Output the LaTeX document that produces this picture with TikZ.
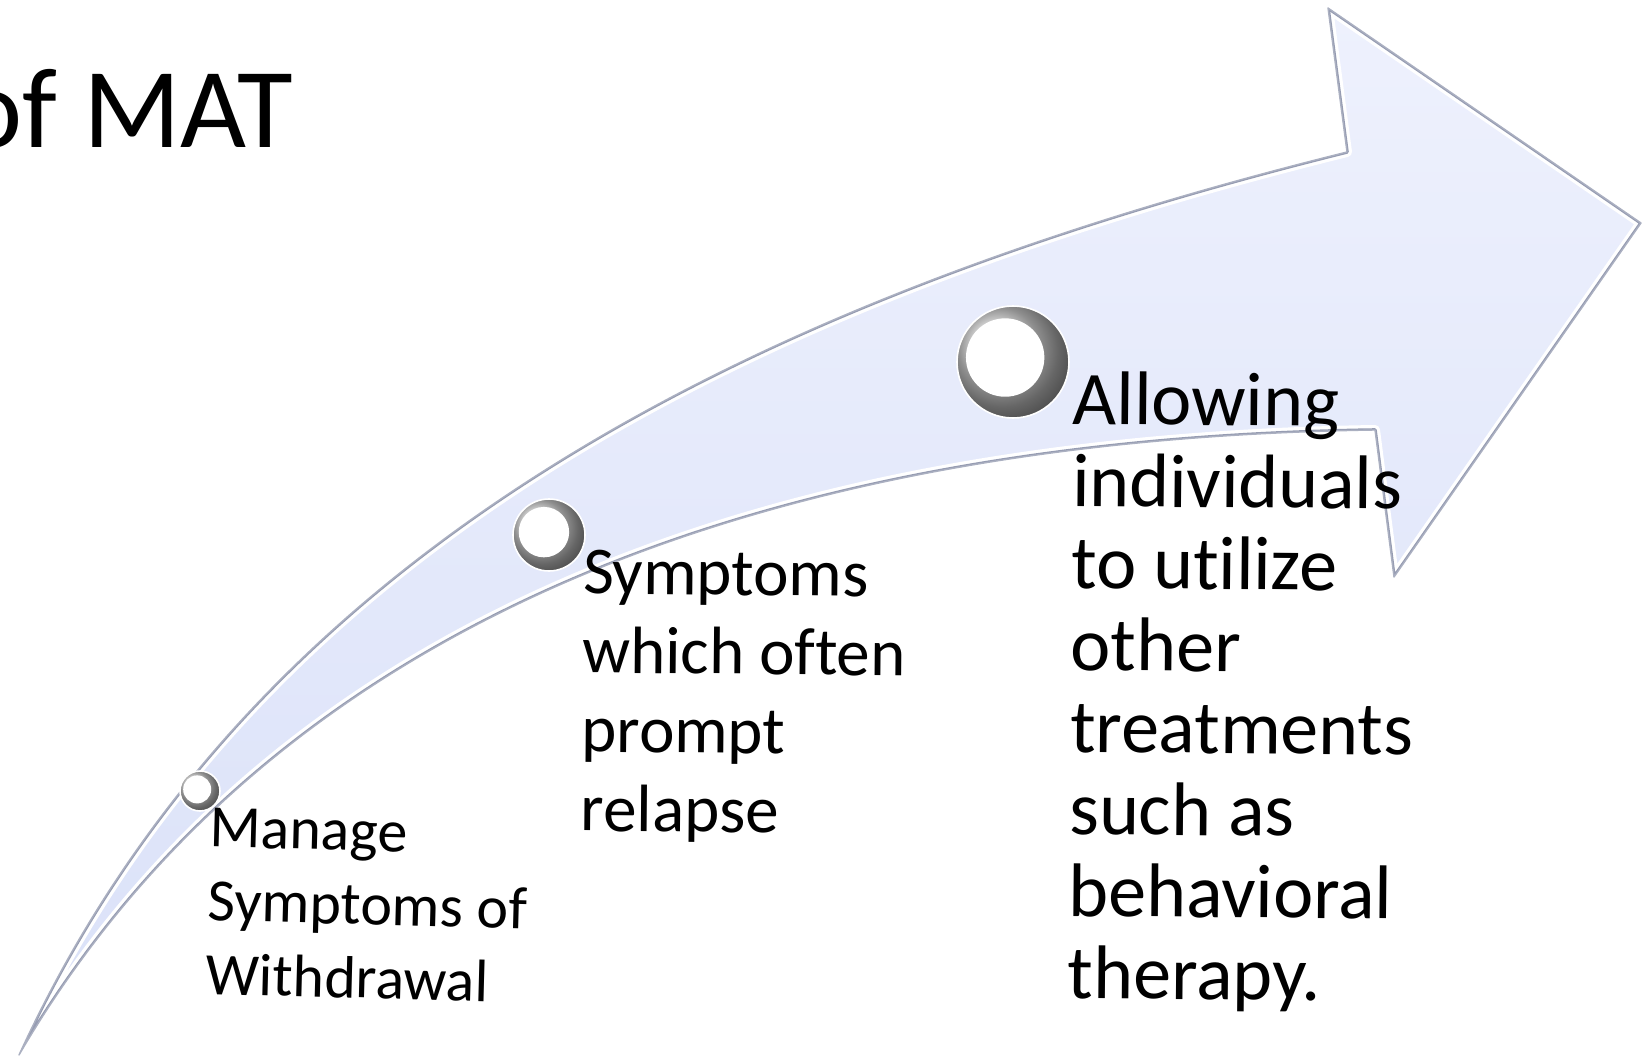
\documentclass[tikz,border=0pt]{standalone}
\usepackage{fontspec}
\setmainfont[Ligatures={NoCommon,NoRare,NoContextual}]{Carlito}
\usetikzlibrary{shadings}

\definecolor{arrowtop}{RGB}{238,241,253}
\definecolor{arrowbot}{RGB}{218,225,248}
\definecolor{arrowedge}{RGB}{150,156,178}

% outline of the curved arrow, in pixel units
\newcommand{\arrowpath}{(19,1055) .. controls (250,550) and (750,300) .. (1347,152)
  -- (1328,8) -- (1641,223) -- (1394,577) -- (1375,430)
  .. controls (700,440) and (250,660) .. (19,1055) -- cycle}

\begin{document}
\begin{tikzpicture}[x=0.5pt,y=-0.5pt,%
      steptext/.style={%
        align      = left,
        anchor     = north west,
        inner sep  = 0pt,
      },
      bead/.style={%
        circle,
        minimum size = #1,
        inner sep    = 0pt,
        draw         = white,
        line width   = 0.8pt,
        ball color   = gray!40,
        path picture = {\fill[white] ([xshift=-0.07*#1,yshift=0.04*#1]path picture bounding box.center) circle (0.35*#1);},
      }
      ]
      \useasboundingbox (0,0) rectangle (1646,1061);

      % arrow body with a bevelled rim
      \shade[top color=arrowtop, bottom color=arrowbot] \arrowpath;
      \begin{scope}
        \clip \arrowpath;
        \draw[white, line width=5pt, line join=round] \arrowpath;
        \draw[arrowedge, line width=1.8pt, line join=round] \arrowpath;
      \end{scope}
      \draw[arrowedge!80, line width=0.7pt, line join=round] \arrowpath;

      \node[anchor=base west, inner sep=0pt, font=\fontsize{57}{68}\selectfont] (title) at (-38,147) {of MAT};

      \node[bead=20pt] (bead-1) at (200,791) {};
      \node[bead=36pt] (bead-2) at (549,535) {};
      \node[bead=56pt] (bead-3) at (1013,362) {};

      \node[steptext, font=\fontsize{30}{36.8}\selectfont, rotate=-1.5] (step-1) at (210,808) {Manage\\Symptoms of\\Withdrawal};
      \node[steptext, font=\fontsize{33.5}{39.5}\selectfont, rotate=-0.5] (step-2) at (583,550) {Symptoms\\which often\\prompt\\relapse};
      \node[steptext, font=\fontsize{38}{41}\selectfont, rotate=-0.5] (step-3) at (1073,371) {Allowing\\individuals\\to utilize\\other\\treatments\\such as\\behavioral\\therapy.};

    \end{tikzpicture}
\end{document}
